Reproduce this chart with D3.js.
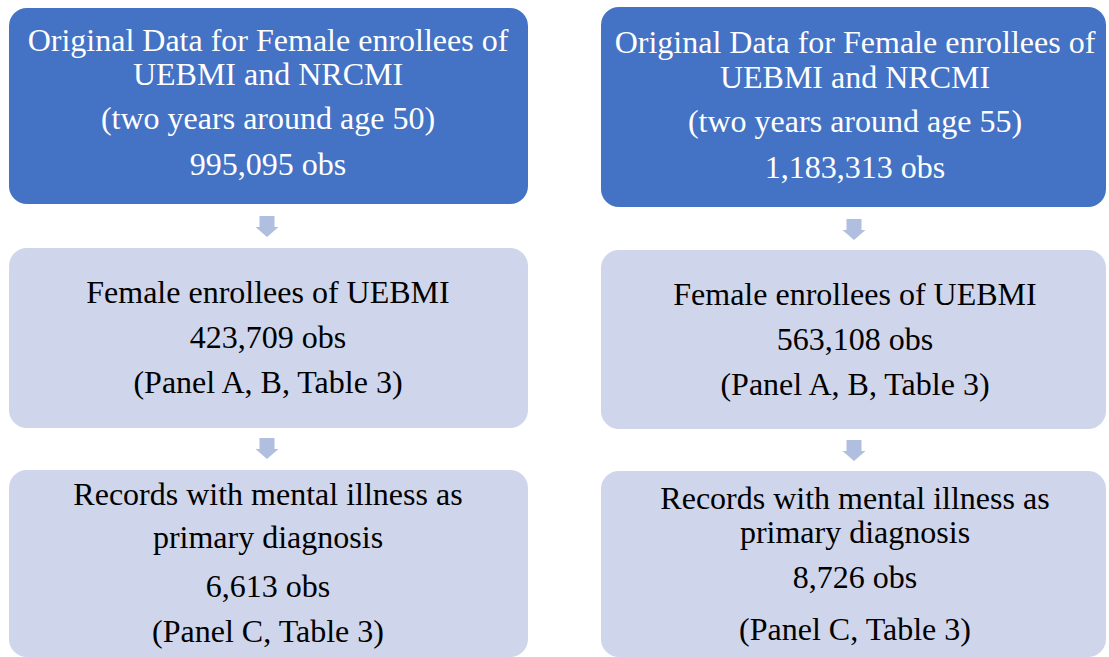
<!DOCTYPE html>
<html>
<head>
    <meta charset="UTF-8">
    <script src="https://d3js.org/d3.v7.min.js"></script>
</head>
<body style="margin:0">
    <script>
        const svgWidth = 1109;
        const svgHeight = 657;
        const serif = "Liberation Serif";

        // one column per age cut-off
        const ageGroups = ["50", "55"];
        const originalObs = ["995,095", "1,183,313"];
        const uebmiObs = ["423,709", "563,108"];
        const mentalObs = ["6,613", "8,726"];
        const stepTitles = [
            ["Original Data for Female enrollees of", "UEBMI and NRCMI"],
            ["Female enrollees of UEBMI"],
            ["Records with mental illness as", "primary diagnosis"]
        ];
        const stepNotes = [null, "(Panel A, B, Table 3)", "(Panel C, Table 3)"];

        // build the lines of text for each box
        const columns = ageGroups.map((age, i) => [
            [...stepTitles[0], `(two years around age ${age})`, `${originalObs[i]} obs`],
            [...stepTitles[1], `${uebmiObs[i]} obs`, stepNotes[1]],
            [...stepTitles[2], `${mentalObs[i]} obs`, stepNotes[2]]
        ]);

        // layout (boxes are not perfectly aligned in the original)
        const layout = [
            {
                x0: 9, x1: 528, cx: 268,
                boxes: [[8, 204], [248, 428], [470, 657]],
                baselines: [[51, 85, 129, 175], [303, 348, 393], [505, 548, 597, 642]],
                arrows: [[216, 237], [438, 459]]
            },
            {
                x0: 601, x1: 1106, cx: 855,
                boxes: [[7, 207], [250, 429], [471, 657]],
                baselines: [[53, 88, 132, 178], [305, 350, 395], [509, 543, 588, 640]],
                arrows: [[219, 240], [440, 461]]
            }
        ];

        const dark = "#4472C4";
        const light = "#CFD5EA";
        const arrowColor = "#B0BEE0";

        const svg = d3.select("body").append("svg")
            .attr("width", svgWidth)
            .attr("height", svgHeight)
            .attr("font-family", serif);

        // flatten into one list of text lines so they all go in one selection
        const textRows = [];

        columns.forEach((boxes, c) => {
            const L = layout[c];

            // boxes
            svg.append("g").selectAll("rect")
                .data(boxes)
                .enter()
                .append("rect")
                .attr("x", L.x0)
                .attr("y", (d, i) => L.boxes[i][0])
                .attr("width", L.x1 - L.x0)
                .attr("height", (d, i) => L.boxes[i][1] - L.boxes[i][0])
                .attr("rx", 18)
                .attr("fill", (d, i) => i === 0 ? dark : light);

            boxes.forEach((lines, i) => lines.forEach((t, j) => textRows.push({
                text: t, x: L.cx, y: L.baselines[i][j], fill: i === 0 ? "white" : "black"
            })));

            // down arrows between boxes
            const shaft = 7.5, head = 11.5, headLen = 10;
            svg.append("g").selectAll("path")
                .data(L.arrows)
                .enter()
                .append("path")
                .attr("fill", arrowColor)
                .attr("d", ([y0, y1]) => {
                    const x = L.cx - 1, yh = y1 - headLen;
                    return `M${x - shaft},${y0} L${x + shaft},${y0} L${x + shaft},${yh} L${x + head},${yh} L${x},${y1} L${x - head},${yh} L${x - shaft},${yh} Z`;
                });
        });

        svg.selectAll("text")
            .data(textRows)
            .enter()
            .append("text")
            .attr("x", d => d.x)
            .attr("y", d => d.y)
            .attr("text-anchor", "middle")
            .attr("fill", d => d.fill)
            .style("font-family", d => `'${serif}'`)
            .style("font-size", "32px")
            .text(d => d.text);
    </script>
</body>
</html>
